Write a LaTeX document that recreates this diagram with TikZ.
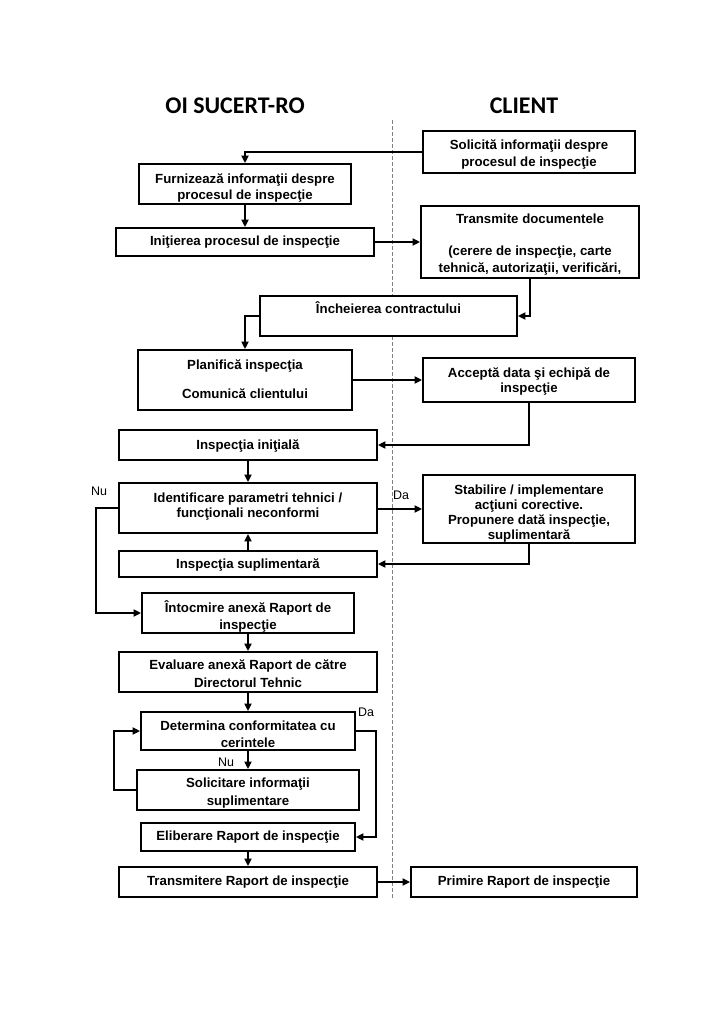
\documentclass[tikz,border=0pt]{standalone}
\usepackage{fontspec}
\setmainfont{Liberation Sans}
\newfontfamily\headfont{Carlito}
\usetikzlibrary{arrows.meta}
\begin{document}
\begin{tikzpicture}[x=1bp,y=-1bp,
  boxtxt/.style={font=\bfseries\fontsize{13.3}{17}\selectfont},
  box/.style={draw, fill=white, line width=1.8bp, inner sep=0pt, align=center, boxtxt},
  txt/.style={inner sep=0pt, align=center, boxtxt},
  conn/.style={line width=1.8bp},
  arr/.style={conn, -{Triangle[length=7.5bp,width=7bp]}},
  lbl/.style={font=\fontsize{12.5}{14}\selectfont, inner sep=0pt},
  head/.style={font=\headfont\bfseries\fontsize{24}{28}\selectfont, inner sep=0pt},
  divider/.style={gray, line width=0.8bp, dash pattern=on 4bp off 2bp}]

\useasboundingbox[fill=white] (0,0) rectangle (724,1024);

% headings
\node[head, anchor=base] (hleft) at (235,113) {OI SUCERT-RO};
\node[head, anchor=base] (hright) at (524,113) {CLIENT};

% divider
\coordinate (dtop) at (392,120);
\coordinate (dbot) at (392,900);
\draw[divider] (dtop) -- (dbot);

% boxes
\node[box, minimum width=212bp, minimum height=42bp] (sol) at (529,152) {};
\node[txt, yshift=-2.5bp] (solt) at (sol) {Solicită informaţii despre\\procesul de inspecţie};

\node[box, minimum width=212bp, minimum height=40bp] (furn) at (245,184) {};
\begin{scope}
  \clip (furn.north west) rectangle (furn.south east);
  \node[txt] (furnt) at (245,188) {Furnizează informaţii despre\\procesul de inspecţie};
\end{scope}

\node[box, minimum width=258bp, minimum height=28bp] (init) at (245,242) {};
\node[txt, yshift=-0.5bp] (initt) at (init) {Iniţierea procesul de inspecţie};

\node[box, minimum width=218bp, minimum height=72bp] (trans) at (530,242) {};
\node[txt, yshift=-2.5bp, font=\bfseries\fontsize{13.3}{16.5}\selectfont] (transt) at (trans)
  {Transmite documentele\\[15.5bp](cerere de inspecţie, carte\\tehnică, autorizaţii, verificări,};

\node[box, minimum width=257bp, minimum height=40bp] (inch) at (388.5,316)
  {Încheierea contractului\\[0bp]\mbox{}};

\node[box, minimum width=214bp, minimum height=60bp] (plan) at (245,380) {};
\node[txt, yshift=1bp] (plant) at (plan) {Planifică inspecţia\\[12bp]Comunică clientului};

\node[box, minimum width=212bp, minimum height=44bp] (acc) at (529,380) {};
\node[txt, yshift=-1.5bp, font=\bfseries\fontsize{13.3}{16}\selectfont] (acct) at (acc)
  {Acceptă data şi echipă de\\inspecţie};

\node[box, minimum width=258bp, minimum height=30bp] (ini) at (248,445) {};
\node[txt, yshift=-1bp] (init2) at (ini) {Inspecţia iniţială};

\node[box, minimum width=258bp, minimum height=50bp] (ident) at (248,508) {};
\node[txt, yshift=1bp, font=\bfseries\fontsize{13.3}{15}\selectfont] (identt) at (ident)
  {Identificare parametri tehnici /\\funcţionali neconformi};

\node[box, minimum width=212bp, minimum height=68bp] (stab) at (529,509) {};
\begin{scope}
  \clip (stab.north west) rectangle (stab.south east);
  \node[txt, font=\bfseries\fontsize{13.3}{15}\selectfont] (stabt) at (529,513.5)
    {Stabilire / implementare\\acţiuni corective.\\Propunere dată inspecţie,\\suplimentară};
\end{scope}

\node[box, minimum width=258bp, minimum height=26bp] (supl) at (248,564) {};
\node[txt, yshift=-1bp] (suplt) at (supl) {Inspecţia suplimentară};

\node[box, minimum width=212bp, minimum height=40bp] (intoc) at (248,613) {};
\begin{scope}
  \clip (intoc.north west) rectangle (intoc.south east);
  \node[txt] (intoct) at (248,616) {Întocmire anexă Raport de\\inspecţie};
\end{scope}

\node[box, minimum width=258bp, minimum height=40bp] (eval) at (248,672) {};
\node[txt, yshift=-2bp, font=\bfseries\fontsize{13.3}{18}\selectfont] (evalt) at (eval)
  {Evaluare anexă Raport de către\\Directorul Tehnic};

\node[box, minimum width=214bp, minimum height=38bp] (det) at (248,731) {};
\node[txt, yshift=-3.5bp] (dett) at (det) {Determina conformitatea cu\\cerintele};

\node[box, minimum width=222bp, minimum height=40bp] (solic) at (248,790) {};
\node[txt, yshift=-3.5bp, font=\bfseries\fontsize{13.3}{18}\selectfont] (solict) at (solic)
  {Solicitare informaţii\\suplimentare};

\node[box, minimum width=214bp, minimum height=28bp] (elib) at (248,837)
  {Eliberare Raport de inspecţie};

\node[box, minimum width=258bp, minimum height=30bp] (transm) at (248,882) {};
\node[txt] (transmt) at (transm) {Transmitere Raport de inspecţie};

\node[box, minimum width=226bp, minimum height=30bp] (prim) at (524,882) {};
\node[txt] (primt) at (prim) {Primire Raport de inspecţie};

% connectors
\draw[arr] (sol.west) -| (furn.north);
\draw[arr] (furn.south) -- (init.north);
\draw[arr] (init.east) -- (init.east -| trans.west);
\draw[arr] (trans.south) |- (inch.east);
\draw[arr] (inch.west) -| (plan.north);
\draw[arr] (plan.east) -- (plan.east -| acc.west);
\draw[arr] (acc.south) |- (ini.east);
\draw[arr] (ini.south) -- (ini.south |- ident.north);
\draw[arr] (stab.west -| ident.east) -- (stab.west);
\node[lbl] (da1) at (401,495) {Da};
\draw[arr] (stab.south) |- (supl.east);
\draw[arr] (supl.north) -- (supl.north |- ident.south);
\draw[arr] (ident.west) -- ++(-22,0) |- (intoc.west);
\node[lbl] (nu1) at (99,491) {Nu};
\draw[arr] (intoc.south) -- (intoc.south |- eval.north);
\draw[arr] (eval.south) -- (eval.south |- det.north);
\draw[arr] (det.east) -- ++(20,0) |- (elib.east);
\node[lbl] (da2) at (366,712) {Da};
\draw[arr] (det.south) -- (det.south |- solic.north);
\node[lbl] (nu2) at (226,762) {Nu};
\draw[arr] (solic.west) -- ++(-22,0) |- (det.west);
\draw[arr] (elib.south) -- (elib.south |- transm.north);
\draw[arr] (transm.east) -- (prim.west);

\end{tikzpicture}
\end{document}
